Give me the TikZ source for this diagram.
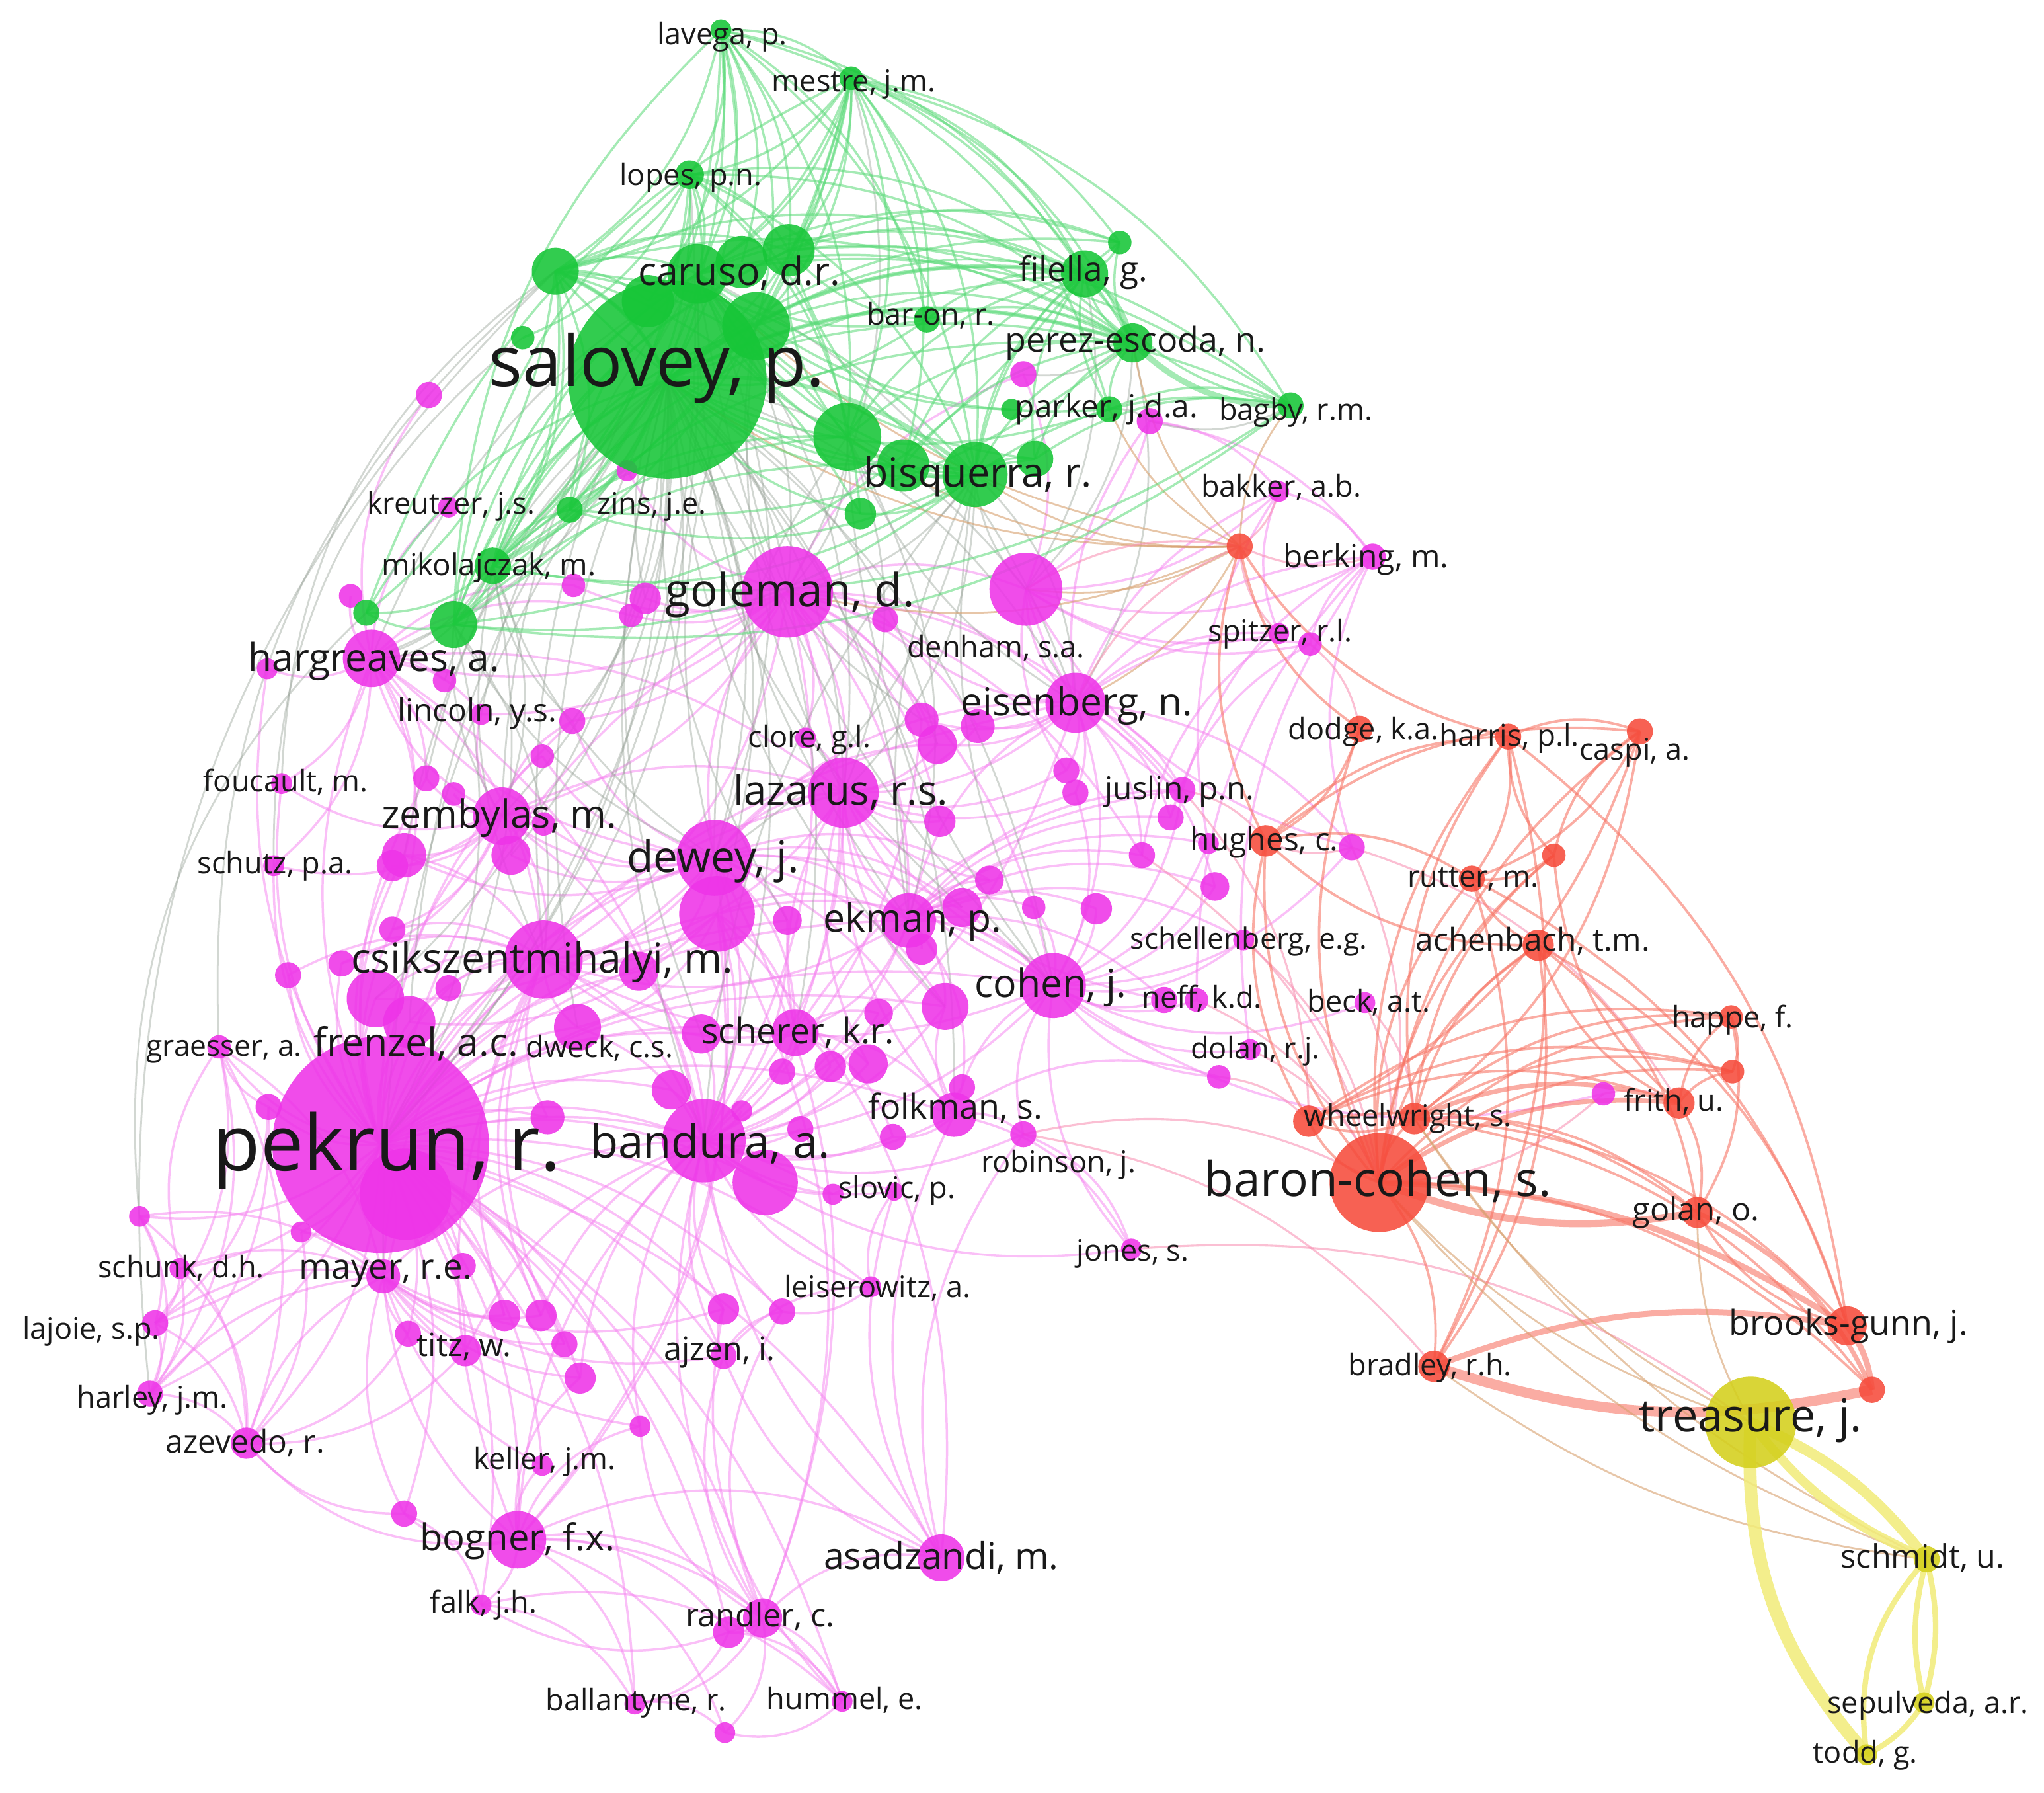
\documentclass[tikz,border=0pt]{standalone}
\usepackage{fontspec}
\setmainfont{Open Sans}
\definecolor{cG}{RGB}{22,198,55}
\definecolor{cM}{RGB}{238,52,232}
\definecolor{cR}{RGB}{246,76,60}
\definecolor{cY}{RGB}{212,208,28}
\definecolor{eG}{RGB}{90,218,120}
\definecolor{eM}{RGB}{246,128,240}
\definecolor{eR}{RGB}{248,118,102}
\definecolor{eY}{RGB}{242,236,120}
\definecolor{eK}{RGB}{150,160,150}
\definecolor{eO}{RGB}{215,160,110}
\definecolor{eP}{RGB}{248,140,175}
\tikzset{
  edgeG/.style={draw=eG,line width=0.5pt,draw opacity=0.55},
  edgeM/.style={draw=eM,line width=0.5pt,draw opacity=0.5},
  edgeR/.style={draw=eR,line width=0.55pt,draw opacity=0.6},
  edgeY/.style={draw=eY,line width=0.5pt,draw opacity=0.85},
  edgeK/.style={draw=eK,line width=0.4pt,draw opacity=0.42},
  edgeO/.style={draw=eO,line width=0.4pt,draw opacity=0.6},
  edgeP/.style={draw=eP,line width=0.45pt,draw opacity=0.55},
  lbl/.style={anchor=base,inner sep=0pt,text=black!90},
  bubble/.style={fill opacity=0.88}
}
\newcommand\edges[3]{\foreach \a/\b in {#3} {\draw[#1] (\a) to[bend left=#2] (\b);}}
\newcommand\lab[5]{\node[lbl,font=\fontsize{#4}{#4}\selectfont] (#1) at ({#2},{#3+0.94*#4}) {#5};}
\begin{document}
\begin{tikzpicture}[x=0.01cm,y=-0.01cm]
\useasboundingbox (0,0) rectangle (1568,1375);
\fill[white] (0,0) rectangle (1568,1375);
\def\Glist{gLav/553/23/8, gMes/653/60/9, gLop/529/134/11, gA/426/208/18, gS1/401/259/9, gSal/512/291/76, gC1/497/231/20, gCar/535/210/23, gC2/569/201/20, gC3/605/192/20, gC4/580/250/26, gFil/832/210/18, gF1/859/186/9, gBar/711/245/10, gPer/869/263/15, gPar/851/314/10, gP1/776/314/8, gBag/990/311/10, gB1/650/335/26, gB2/693/357/20, gBis/748/364/25, gB3/794/352/14, gB4/660/394/12, gZin/437/391/10, gMik/378/434/14, gM1/281/470/10, gM2/348/479/18}
\def\Mlist{mS1/329/303/10, mP1/785/287/10, mP2/882/323/10, mS2/481/361/8, mKre/344/389/8, mBak/981/377/8, mBer/1053/427/10, mSp1/981/486/8, mSp2/1005/494/9, mGol/604/454/35, mG1/787/452/28, mDen/679/475/10, mHar/285/505/22, mH1/205/513/8, mH2/269/457/9, mH3/341/522/9, mG2/440/449/9, mG3/495/459/12, mG4/484/472/9, mLin/369/548/8, mLin2/439/553/10, mLin3/416/580/9, mEis/825/539/23, mE1/707/552/13, mE2/719/571/15, mE3/750/557/13, mClo/618/566/8, mFou/216/601/8, mZ1/327/597/10, mZ2/348/609/9, mZem/385/626/22, mZ3/392/656/15, mZ4/417/632/9, mLaz/647/608/27, mL1/721/630/12, mJ1/818/591/10, mJ2/825/608/10, mJus/907/606/10, mJ3/898/627/10, mSc1/310/656/17, mSc2/301/664/12, mSchu/210/664/8, mDew/548/658/29, mDew2/550/701/29, mD1/604/706/11, mD2/759/675/11, mHu1/927/647/8, mHu2/1037/650/10, mHu3/876/656/10, mHu4/932/680/11, mEkm/697/706/21, mEk1/738/696/15, mEk2/707/728/12, mEk3/793/696/9, mEk4/841/697/12, mSchel/954/721/8, mC1/301/713/10, mC2/221/748/10, mC3/262/739/10, mCsi/417/736/30, mC4/288/766/22, mC5/314/784/20, mC6/344/758/10, mC7/490/745/15, mDwe/443/788/18, mCoh/808/756/25, mCo1/725/772/18, mCo2/674/777/11, mNe1/893/767/10, mNe2/918/767/9, mBec/1047/769/8, mGra/168/803/9, mSche/610/792/18, mSr1/538/793/15, mSr2/666/816/15, mSr3/637/818/12, mSr4/600/822/10, mDo1/959/805/8, mDo2/935/826/9, mF1/738/834/10, mFol/732/855/17, mF2/685/872/10, mRob/785/870/10, mSl1/639/916/8, mSl2/686/914/7, mBan/540/875/32, mBan2/587/907/25, mB3/515/836/15, mB4/569/852/8, mB5/614/866/10, mPek/292/878/83, mPek2/311/916/35, mP3/206/849/10, mP4/420/857/13, mP5/107/933/8, mP6/231/945/8, mSchk/138/973/8, mMay/294/979/13, mMay2/355/971/10, mJon/868/958/8, mLei/668/987/8, mLaj/119/1015/10, mA1/555/1004/12, mA2/600/1006/10, mAjz/555/1040/10, mT1/313/1023/10, mTit/357/1036/12, mT2/387/1009/12, mT3/415/1009/12, mT4/433/1031/10, mT5/445/1057/12, mHarl/115/1069/10, mAze/189/1107/12, mK1/491/1094/8, mKel/416/1124/8, mBo1/310/1161/10, mBog/397/1181/22, mAsa/722/1195/18, mFal/369/1231/8, mRan/585/1241/15, mRan2/559/1252/12, mBal/487/1307/8, mHum/646/1305/8, mBot/556/1329/8, mFr2/1230/839/9}
\def\Rlist{rBerk/951/419/10, rDod/1043/559/10, rHarr/1157/565/10, rCas/1258/561/10, rHug/971/645/12, rRu2/1192/656/9, rRut/1129/674/10, rAch/1180/725/12, rHap/1328/780/9, rH2/1329/822/9, rFri/1288/846/12, rWh1/1004/860/12, rWhe/1085/858/12, rBar/1058/907/38, rGol/1302/930/12, rBro/1417/1017/15, rBra/1100/1048/12, rB2/1436/1066/10}
\def\Ylist{yTre/1343/1091/35, ySch/1478/1196/10, ySep/1476/1306/8, yTod/1432/1346/8}
\foreach \n/\x/\y/\r in \Glist {\coordinate (\n) at (\x,\y);}
\foreach \n/\x/\y/\r in \Mlist {\coordinate (\n) at (\x,\y);}
\foreach \n/\x/\y/\r in \Rlist {\coordinate (\n) at (\x,\y);}
\foreach \n/\x/\y/\r in \Ylist {\coordinate (\n) at (\x,\y);}
% ---------- magenta edges
\edges{edgeM}{22}{mPek/mBan, mPek/mDew, mPek/mDew2, mPek/mCsi, mPek/mGol, mPek/mLaz, mPek/mEkm, mPek/mSche, mPek/mFol, mPek/mZem, mPek/mHar, mPek/mMay, mPek/mSchk, mPek/mLaj, mPek/mHarl, mPek/mAze, mPek/mBog, mPek/mTit, mPek/mT1, mPek/mT2, mPek/mT3, mPek/mT4, mPek/mT5, mPek/mKel, mPek/mK1, mPek/mA1, mPek/mAjz, mPek/mP3, mPek/mP4, mPek/mP5, mPek/mP6, mPek/mGra, mPek/mC2, mPek/mC3, mPek/mC4, mPek/mC5, mPek/mC6, mPek/mC1, mPek/mDwe, mPek/mSr1, mPek/mB3, mPek/mBan2, mPek/mCoh, mPek/mEis, mPek/mMay2, mPek/mBo1, mPek/mRan, mPek/mLin2, mPek/mZ1, mPek/mSc1, mPek/mSc2, mPek/mSchu, mPek/mFou, mPek/mCo1, mPek/mD1, mPek/mH1, mPek/mC7, mPek/mFal, mPek/mAsa, mPek/mRan2, mPek/mBal, mPek/mHum, mPek/mA2, mPek/mLei, mPek/mSl1}
\edges{edgeM}{-22}{mBan/mDew, mBan/mDew2, mBan/mCsi, mBan/mGol, mBan/mLaz, mBan/mEkm, mBan/mCoh, mBan/mSche, mBan/mFol, mBan/mEis, mBan/mSl1, mBan/mSl2, mBan/mA1, mBan/mAjz, mBan/mLei, mBan/mMay, mBan/mZem, mBan/mHar, mBan/mCo1, mBan/mCo2, mBan/mSr1, mBan/mSr2, mBan/mSr3, mBan/mB3, mBan/mB4, mBan/mB5, mBan/mF2, mBan/mTit, mBan/mRan, mBan/mBog, mBan/mAsa, mBan/mD1, mBan/mE1, mBan/mRob, mBan/mA2, mBan/mDwe, mBan/mC7, mBan/mT3, mBan/mT5, mBan/mK1, mBan/mJon}
\edges{edgeM}{25}{mDew/mCsi, mDew/mGol, mDew/mLaz, mDew/mEkm, mDew/mCoh, mDew/mEis, mDew/mZem, mDew/mHar, mDew/mZ3, mDew/mC7, mDew/mD1, mDew/mD2, mDew/mEk1, mDew/mCo1, mDew/mBog, mDew/mRan, mDew/mLin2, mDew/mE2, mDew/mSche, mDew/mFol, mDew2/mCsi, mDew2/mEkm, mDew2/mCoh, mDew2/mSche, mDew2/mBog, mDew2/mRan, mDew2/mAsa, mDew2/mDwe, mDew/mC4, mDew/mSc1, mDew/mLin3, mDew/mZ4, mDew2/mC5, mDew2/mSr1}
\edges{edgeM}{-25}{mCsi/mGol, mCsi/mLaz, mCsi/mEkm, mCsi/mZem, mCsi/mHar, mCsi/mC4, mCsi/mC5, mCsi/mC6, mCsi/mDwe, mCsi/mMay, mCsi/mSche, mCsi/mCoh, mCsi/mT2, mCsi/mT3, mCsi/mSc1, mCsi/mC1, mCsi/mBog, mCsi/mC3, mCsi/mC2, mCsi/mP4, mCsi/mT4}
\edges{edgeM}{22}{mGol/mLaz, mGol/mEis, mGol/mEkm, mGol/mHar, mGol/mZem, mGol/mG1, mGol/mG2, mGol/mG3, mGol/mDen, mGol/mE1, mGol/mE3, mGol/mClo, mGol/mLin2, mGol/mCoh, mGol/mSche, mGol/mHu3, mGol/mJus, mGol/mG4, mGol/mS2, mGol/mP1, mGol/mLin, mGol/mE2, mGol/mL1}
\edges{edgeM}{-22}{mLaz/mEkm, mLaz/mFol, mLaz/mSche, mLaz/mCoh, mLaz/mEis, mLaz/mE2, mLaz/mL1, mLaz/mClo, mLaz/mJ1, mLaz/mCo1, mLaz/mSr2, mLaz/mD2, mLaz/mNe1, mLaz/mZem, mLaz/mHar, mLaz/mJ2, mLaz/mE3}
\edges{edgeM}{25}{mEkm/mSche, mEkm/mCoh, mEkm/mEis, mEkm/mJus, mEkm/mEk1, mEkm/mEk3, mEkm/mEk4, mEkm/mCo1, mEkm/mHu1, mEkm/mHu4, mEkm/mSchel, mEkm/mNe1, mEkm/mD2, mEkm/mF1, mEkm/mEk2, mEkm/mJ3, mEkm/mHu3}
\edges{edgeM}{-25}{mCoh/mEis, mCoh/mFol, mCoh/mNe1, mCoh/mNe2, mCoh/mBec, mCoh/mDo1, mCoh/mDo2, mCoh/mEk4, mCoh/mJus, mCoh/mRob, mCoh/mHu2, mCoh/mJ2, mCoh/mSchel, mCoh/mJon, mCoh/mFr2, mCoh/mHu4, mCoh/mHu1, mCoh/mEk3}
\edges{edgeM}{22}{mEis/mG1, mEis/mE1, mEis/mE2, mEis/mE3, mEis/mJ1, mEis/mJ2, mEis/mJus, mEis/mBer, mEis/mSp1, mEis/mSp2, mEis/mBak, mEis/mP2, mEis/mHu2, mEis/mDen, mEis/mHu3, mEis/mJ3, mEis/mHu4}
\edges{edgeM}{-22}{mG1/mBak, mG1/mBer, mG1/mSp1, mG1/mSp2, mG1/mP1, mG1/mP2, mG1/mHu2, mG1/mJus, mG1/mJ1, mBer/mBak, mBer/mSp2, mBer/mHu2, mBer/mDo1, mBer/mNe2, mBer/mP2, mBak/mP2, mBak/mSp1, mSp1/mHu3, mSp2/mJ3, mBer/mJus, mBak/mHu1}
\edges{edgeM}{25}{mZem/mHar, mZem/mZ1, mZem/mZ2, mZem/mZ3, mZem/mZ4, mZem/mSc1, mZem/mSc2, mZem/mLin, mZem/mLin2, mZem/mLin3, mZem/mFou, mZem/mSchu, mZem/mC1, mZem/mC3, mHar/mH1, mHar/mH2, mHar/mH3, mHar/mLin, mHar/mZ1, mHar/mG2, mHar/mG4, mHar/mFou, mHar/mSchu, mHar/mKre, mHar/mS1, mHar/mSc1, mHar/mC1}
\edges{edgeM}{-22}{mMay/mSchk, mMay/mLaj, mMay/mHarl, mMay/mAze, mMay/mTit, mMay/mT1, mMay/mT2, mMay/mT3, mMay/mT4, mMay/mT5, mMay/mKel, mMay/mK1, mMay/mBog, mMay/mBo1, mMay/mGra, mMay/mP5, mMay/mP6, mMay/mA1, mMay/mAjz}
\edges{edgeM}{28}{mBog/mFal, mBog/mRan, mBog/mRan2, mBog/mBal, mBog/mHum, mBog/mBot, mBog/mAsa, mBog/mKel, mBog/mK1, mBog/mBo1, mBog/mAze, mBog/mT5, mRan/mBal, mRan/mHum, mRan/mBot, mRan/mRan2, mRan/mFal, mRan/mAsa, mRan/mAjz, mRan/mA2, mRan2/mBal, mRan2/mHum, mBal/mBot, mHum/mBot, mFal/mBal, mFal/mHum, mBo1/mFal, mRan/mK1, mHum/mA1}
\edges{edgeM}{-25}{mAze/mHarl, mAze/mLaj, mAze/mSchk, mAze/mP5, mAze/mP6, mAze/mGra, mAze/mBo1, mAze/mTit, mHarl/mLaj, mHarl/mSchk, mHarl/mGra, mHarl/mP5, mLaj/mSchk, mLaj/mGra, mLaj/mP5, mGra/mSchk, mGra/mP3, mLaj/mP3, mHarl/mP3, mAze/mT1}
\edges{edgeM}{25}{mAsa/mRob, mAsa/mFol, mAsa/mAjz, mSche/mSr1, mSche/mSr2, mSche/mSr3, mSche/mSr4, mSche/mCo2, mSche/mFol, mSche/mF2, mSche/mJus, mFol/mF1, mFol/mF2, mFol/mRob, mFol/mCo1, mFol/mDo2, mFol/mJon, mAjz/mA1, mAjz/mA2, mAjz/mLei, mLei/mSl2, mLei/mA2, mSl1/mSl2, mAsa/mSl2, mRob/mJon}
% ---------- green and mixed edges
\edges{edgeK}{22}{gSal/mGol, gSal/mDew, gSal/mLaz, gSal/mCsi, gSal/mPek, gSal/mZem, gSal/mHar, gSal/mEis, gSal/mEkm, gSal/mCoh, gSal/mBan, gSal/mLin2, gSal/mG1, gSal/mSche, gSal/mC4, gSal/mFol, gSal/mZ3, gSal/mE2, gSal/mDew2, gCar/mGol, gCar/mDew, gCar/mLaz, gCar/mPek, gCar/mEis, gBis/mGol, gBis/mEis, gBis/mLaz, gBis/mDew, gB1/mGol, gB1/mLaz, gB1/mEkm, gMik/mPek, gMik/mHar, gMik/mZem, gM2/mHar, gM2/mPek, gM2/mCsi, gPer/mG1, gPer/mEis, gFil/mG1, gLop/mPek, gMes/mGol, gPer/mP1, gPar/mP2, gBag/mP2}
\edges{edgeK}{-18}{gSal/mSc1, gSal/mC5, gSal/mDwe, gSal/mZ1, gSal/mLin, gSal/mG3, gSal/mE1, gSal/mD1, gSal/mEk1, gSal/mCo1, gSal/mSr1, gSal/mMay, gSal/mH3, gCar/mCsi, gCar/mHar, gCar/mZem, gCar/mBan, gCar/mCoh, gCar/mEkm, gB1/mDew, gB1/mEis, gB1/mCoh, gBis/mEkm, gBis/mCoh, gBis/mG1, gBis/mBan, gMik/mCsi, gMik/mDew, gMik/mLin2, gM2/mZem, gM2/mDew, gC4/mGol, gC4/mDew, gC4/mLaz}
\edges{edgeK}{-26}{gA/mFou, gM1/mP5, gA/mGra, gS1/mSchu, gA/mHarl}
\edges{edgeO}{18}{rBerk/gSal, rBerk/gBis, rBerk/gPar, rBerk/gPer, rBerk/gBag, rBerk/mGol, rBerk/mEis, rBerk/mG1, rBerk/gB1, rBerk/gCar}
\edges{edgeG}{22}{gLav/gSal, gLav/gCar, gLav/gC2, gLav/gC3, gLav/gA, gLav/gLop, gLav/gMes, gLav/gFil, gLav/gPer, gLav/gBis, gLav/gB1, gLav/gBar, gLav/gMik, gLav/gC4, gLav/gC1, gMes/gSal, gMes/gCar, gMes/gC3, gMes/gC4, gMes/gLop, gMes/gA, gMes/gFil, gMes/gPer, gMes/gBis, gMes/gB1, gMes/gB2, gMes/gBar, gMes/gF1, gMes/gBag, gMes/gMik, gMes/gZin, gMes/gPar, gMes/gC1, gLop/gSal, gLop/gCar, gLop/gA, gLop/gC1, gLop/gC3, gLop/gFil, gLop/gBis, gLop/gB1, gLop/gMik, gLop/gZin, gLop/gS1, gLop/gPer, gA/gSal, gA/gCar, gA/gC1, gA/gC3, gA/gFil, gA/gPer, gA/gBis, gA/gMik, gA/gM2, gA/gM1, gA/gZin, gA/gB1}
\edges{edgeG}{-22}{gFil/gSal, gFil/gCar, gFil/gC3, gFil/gPer, gFil/gBis, gFil/gB1, gFil/gB2, gFil/gPar, gFil/gBag, gFil/gF1, gFil/gBar, gFil/gB3, gFil/gMik, gFil/gC4, gF1/gSal, gF1/gPer, gF1/gBis, gF1/gC3, gF1/gCar, gPer/gSal, gPer/gCar, gPer/gBis, gPer/gB1, gPer/gB2, gPer/gB3, gPer/gPar, gPer/gBar, gPer/gMik, gPer/gC3, gPer/gC4, gBag/gSal, gBag/gPar, gBag/gB3, gBag/gBis, gBag/gC3, gBag/gCar, gLav/gM2, gMes/gM1, gLop/gM2}
\edges{edgeG}{22}{gBis/gSal, gBis/gCar, gBis/gB1, gBis/gB2, gBis/gB3, gBis/gB4, gBis/gMik, gBis/gM2, gBis/gZin, gBis/gC3, gBis/gA, gMik/gSal, gMik/gCar, gMik/gC4, gMik/gM2, gMik/gM1, gMik/gZin, gMik/gB1, gMik/gC3, gM2/gSal, gM2/gCar, gM2/gC3, gM2/gM1, gM2/gB1, gM2/gB2, gB1/gCar, gB1/gC3, gB2/gCar, gB3/gSal, gB3/gCar, gB4/gSal, gPar/gSal, gPar/gCar, gBar/gSal, gBar/gCar, gBar/gC3, gZin/gCar, gM1/gSal, gLav/gZin, gMes/gM2, gLop/gB4, gA/gB4, gFil/gM2, gPer/gZin, gP1/gCar, gBag/gMik, gBag/gM2}
\edges{edgeG,line width=1.3pt}{-22}{gPer/gBag}
\edges{edgeG,line width=0.9pt}{22}{gFil/gPer, gSal/gBis, gSal/gMik, gSal/gFil, gSal/gPer, gA/gSal}
% ---------- red, mixed and yellow edges
\edges{edgeP}{20}{mHu2/rHug, mG1/rBerk, mEis/rBerk, mBer/rBerk, mBak/rBerk, mSp1/rBerk, mSp2/rDod, mJus/rHug, mHu2/rBar, mDo1/rBar, mDo2/rWh1, mBec/rBar, mSchel/rBar, mNe2/rBar, mFr2/rFri, mFr2/rBar, mRob/rBar, mHu3/rBar, mJon/yTre, mRob/rBra, mBec/rWhe, mHu2/rFri, mJus/rWh1}
\edges{edgeR}{22}{rBar/rWhe, rBar/rWh1, rBar/rHap, rBar/rH2, rBar/rBra, rBar/rAch, rBar/rRut, rBar/rHarr, rBar/rHug, rBar/rB2, rBar/rRu2, rBar/rCas, rBar/rDod, rWhe/rWh1, rWhe/rGol, rWhe/rHap, rWhe/rH2, rWhe/rHarr, rWhe/rAch, rWhe/rBro, rWhe/rB2, rWhe/rRu2, rWh1/rFri, rWh1/rHap, rWh1/rHug, rWh1/rGol, rWh1/rH2, rFri/rHap, rFri/rH2, rFri/rGol, rFri/rAch, rFri/rRu2, rHap/rH2, rHap/rGol}
\edges{edgeR}{-22}{rGol/rAch, rGol/rBro, rBro/rAch, rBro/rRut, rBro/rHarr, rBra/rHarr, rBra/rRut, rBra/rAch, rRut/rCas, rRut/rHarr, rRut/rHug, rRut/rRu2, rRut/rAch, rCas/rHug, rCas/rHarr, rCas/rRu2, rHarr/rHug, rHarr/rRu2, rHug/rDod, rHug/rAch, rBerk/rDod, rBerk/rHug, rBerk/rHarr, rWh1/rCas, rWhe/rCas}
\edges{edgeR,line width=1.6pt}{-15}{rBar/rGol}
\edges{edgeR,line width=1.3pt}{15}{rBar/rBro, rBra/rBro, rBro/rB2}
\edges{edgeR,line width=2.2pt}{-15}{rBra/rB2}
\edges{edgeR,line width=1pt}{20}{rGol/rB2, rBar/rFri, rWhe/rFri}
\edges{edgeO}{14}{yTre/rBar, yTre/rGol, ySch/rBar, ySch/rBra, ySch/rWhe, yTre/rWhe}
\edges{edgeY,line width=2.3pt}{14}{yTre/ySch}
\edges{edgeY,line width=2pt}{-14}{yTre/ySch}
\edges{edgeY,line width=2.8pt}{-22}{yTre/yTod}
\edges{edgeY,line width=1.2pt}{14}{ySch/ySep, ySep/ySch, ySep/yTod}
\edges{edgeY,line width=1.2pt}{-25}{ySch/yTod}
% ---------- circles
\foreach \n/\x/\y/\r in \Mlist {\fill[cM,bubble] (\n) circle[radius=\r*0.1mm];}
\foreach \n/\x/\y/\r in \Glist {\fill[cG,bubble] (\n) circle[radius=\r*0.1mm];}
\foreach \n/\x/\y/\r in \Rlist {\fill[cR,bubble] (\n) circle[radius=\r*0.1mm];}
\foreach \n/\x/\y/\r in \Ylist {\fill[cY,bubble] (\n) circle[radius=\r*0.1mm];}
% ---------- labels
\lab{L1}{554}{28}{6.5}{lavega, p.}
\lab{L2}{655}{64}{6.5}{mestre, j.m.}
\lab{L3}{530}{136}{6.5}{lopes, p.n.}
\lab{L4}{567}{211}{8.5}{caruso, d.r.}
\lab{L5}{831}{209}{7.4}{filella, g.}
\lab{L6}{714}{243}{6.5}{bar-on, r.}
\lab{L7}{871}{263}{7.5}{perez-escoda, n.}
\lab{L8}{504}{282}{15.4}{salovey, p.}
\lab{L9}{849}{314}{6.9}{parker, j.d.a.}
\lab{L10}{994}{316}{6.5}{bagby, r.m.}
\lab{L11}{750}{365}{8.8}{bisquerra, r.}
\lab{L12}{983}{375}{6.5}{bakker, a.b.}
\lab{L13}{346}{388}{6.5}{kreutzer, j.s.}
\lab{L14}{500}{388}{6.5}{zins, j.e.}
\lab{L15}{1048}{429}{6.9}{berking, m.}
\lab{L16}{375}{435}{6.6}{mikolajczak, m.}
\lab{L17}{606}{456}{10}{goleman, d.}
\lab{L18}{982}{486}{6.5}{spitzer, r.l.}
\lab{L19}{764}{498}{6.5}{denham, s.a.}
\lab{L20}{287}{507}{8.45}{hargreaves, a.}
\lab{L21}{826}{541}{8.45}{eisenberg, n.}
\lab{L22}{366}{547}{6.9}{lincoln, y.s.}
\lab{L23}{1046}{561}{6.5}{dodge, k.a.}
\lab{L24}{1158}{566}{6.6}{harris, p.l.}
\lab{L25}{621}{567}{6.5}{clore, g.l.}
\lab{L26}{1254}{577}{6.5}{caspi, a.}
\lab{L27}{219}{601}{6.5}{foucault, m.}
\lab{L28}{645}{609}{8.9}{lazarus, r.s.}
\lab{L29}{905}{607}{6.9}{juslin, p.n.}
\lab{L30}{383}{627}{8.5}{zembylas, m.}
\lab{L31}{970}{646}{6.9}{hughes, c.}
\lab{L32}{547}{660}{9.5}{dewey, j.}
\lab{L33}{211}{664}{6.5}{schutz, p.a.}
\lab{L34}{1130}{674}{6.5}{rutter, m.}
\lab{L35}{700}{707}{8.5}{ekman, p.}
\lab{L36}{958}{722}{6.4}{schellenberg, e.g.}
\lab{L37}{1176}{723}{6.9}{achenbach, t.m.}
\lab{L38}{416}{738}{9}{csikszentmihalyi, m.}
\lab{L39}{806}{757}{8.5}{cohen, j.}
\lab{L40}{922}{767}{6.5}{neff, k.d.}
\lab{L41}{1050}{770}{6.5}{beck, a.t.}
\lab{L42}{1329}{782}{6.5}{happe, f.}
\lab{L43}{172}{804}{6.4}{graesser, a.}
\lab{L44}{319}{802}{8.5}{frenzel, a.c.}
\lab{L45}{460}{805}{6.5}{dweck, c.s.}
\lab{L46}{612}{793}{7.7}{scherer, k.r.}
\lab{L47}{963}{806}{6.5}{dolan, r.j.}
\lab{L48}{733}{851}{7.5}{folkman, s.}
\lab{L49}{1284}{846}{6.5}{frith, u.}
\lab{L50}{1080}{858}{6.5}{wheelwright, s.}
\lab{L51}{297}{882}{16.8}{pekrun, r.}
\lab{L52}{545}{879}{9.9}{bandura, a.}
\lab{L53}{812}{893}{6.5}{robinson, j.}
\lab{L54}{1057}{908}{10.5}{baron-cohen, s.}
\lab{L55}{688}{913}{6.5}{slovic, p.}
\lab{L56}{1301}{930}{7}{golan, o.}
\lab{L57}{869}{961}{6.5}{jones, s.}
\lab{L58}{139}{974}{6.5}{schunk, d.h.}
\lab{L59}{296}{974}{7.6}{mayer, r.e.}
\lab{L60}{673}{989}{6.5}{leiserowitz, a.}
\lab{L61}{70}{1021}{6.5}{lajoie, s.p.}
\lab{L62}{1418}{1017}{7.5}{brooks-gunn, j.}
\lab{L63}{356}{1034}{7}{titz, w.}
\lab{L64}{552}{1037}{7}{ajzen, i.}
\lab{L65}{1097}{1049}{6.5}{bradley, r.h.}
\lab{L66}{117}{1074}{6.5}{harley, j.m.}
\lab{L67}{1343}{1089}{9.9}{treasure, j.}
\lab{L68}{188}{1108}{6.9}{azevedo, r.}
\lab{L69}{418}{1121}{6.5}{keller, j.m.}
\lab{L70}{397}{1182}{8.1}{bogner, f.x.}
\lab{L71}{722}{1196}{8}{asadzandi, m.}
\lab{L72}{1475}{1196}{7}{schmidt, u.}
\lab{L73}{371}{1231}{6.5}{falk, j.h.}
\lab{L74}{583}{1241}{7}{randler, c.}
\lab{L75}{488}{1306}{6.5}{ballantyne, r.}
\lab{L76}{648}{1305}{6.5}{hummel, e.}
\lab{L77}{1479}{1308}{6.5}{sepulveda, a.r.}
\lab{L78}{1431}{1346}{6.5}{todd, g.}
\end{tikzpicture}
\end{document}
